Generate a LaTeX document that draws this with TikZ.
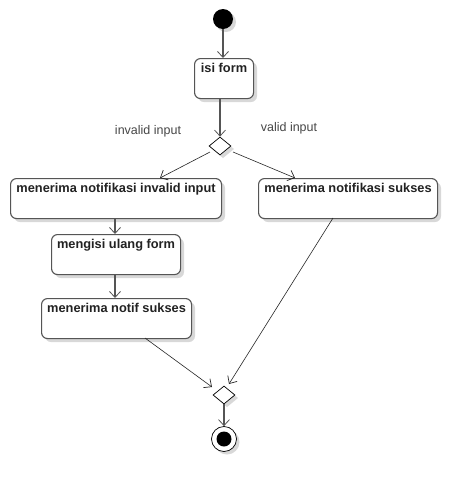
\documentclass[tikz,border=0pt]{standalone}
\usepackage{fontspec}
\setmainfont{Liberation Sans}
\usetikzlibrary{arrows.meta,shapes.geometric,calc}
\definecolor{txt}{HTML}{222222}
\definecolor{edge}{HTML}{555555}
\definecolor{shadowc}{HTML}{D8D8D8}
\tikzset{
  x=1pt,y=-1pt,
  actbox/.style={draw=edge,line width=1.1pt,rounded corners=6pt,fill=white,anchor=north west,inner sep=0pt},
  lbl/.style={font=\fontsize{12.8}{15}\selectfont\bfseries,text=txt,anchor=north,inner sep=0pt},
  guard/.style={font=\fontsize{12.5}{14}\selectfont,text=black!72,inner sep=0pt},
  dec/.style={diamond,draw=black,line width=0.7pt,fill=white,minimum width=22pt,minimum height=18pt,inner sep=0pt,aspect=1.2},
  flow/.style={draw=edge,line width=1.1pt,-{Straight Barb[length=6pt,width=11pt,line width=0.8pt]}},
  thin/.style={draw=black!85,line width=0.6pt,-{Straight Barb[length=6pt,width=11pt,line width=0.7pt]}},
  shbox/.style={fill=shadowc,rounded corners=6pt},
}
\begin{document}
\begin{tikzpicture}
\useasboundingbox (0,0) rectangle (476,491);
\fill[white] (0,0) rectangle (476,491);
% shadows (drawn first, beneath the shapes)
\fill[shbox] (198,62) rectangle (257,102);
\fill[shbox] (14,182) rectangle (225,222);
\fill[shbox] (262,182) rectangle (441,222);
\fill[shbox] (55,238) rectangle (184,278);
\fill[shbox] (45,302) rectangle (195,342);
\fill[shadowc] (226,22) circle (10);
\fill[shadowc] (227,442) circle (12.5);
\fill[shadowc] (223,140) -- (234,149) -- (223,158) -- (212,149) -- cycle;
\fill[shadowc] (227,389) -- (238,398) -- (227,407) -- (216,398) -- cycle;
% start
\node[circle,fill=black,minimum size=20pt,inner sep=0pt] (start) at (223,19) {};
% isi form
\node[actbox,minimum width=59pt,minimum height=40pt] (b0) at (194,58) {};
\node[lbl] (t0) at ($(b0.north)+(0,5)$) {isi form};
% decision 1
\node[dec] (d1) at (220,146) {};
\node[guard] (g1) at (148,131) {invalid input};
\node[guard] (g2) at (289,128) {valid input};
% boxes
\node[actbox,minimum width=211pt,minimum height=40pt] (b1) at (10,178) {};
\node[lbl] (t1) at ($(b1.north)+(0,5)$) {menerima notifikasi invalid input};
\node[actbox,minimum width=179pt,minimum height=40pt] (b2) at (258,178) {};
\node[lbl] (t2) at ($(b2.north)+(0,5)$) {menerima notifikasi sukses};
\node[actbox,minimum width=129pt,minimum height=40pt] (b3) at (51,234) {};
\node[lbl] (t3) at ($(b3.north)+(0,5)$) {mengisi ulang form};
\node[actbox,minimum width=150pt,minimum height=40pt] (b4) at (41,298) {};
\node[lbl] (t4) at ($(b4.north)+(0,5)$) {menerima notif sukses};
% decision 2 / merge
\node[dec] (d2) at (224,395) {};
% end
\node[circle,draw=black,line width=0.7pt,fill=white,minimum size=25pt,inner sep=0pt] (end) at (224,439) {};
\node[circle,fill=black,minimum size=15pt,inner sep=0pt] (endin) at (end.center) {};
% connectors
\draw[flow] (start) -- (b0.north -| start);
\draw[flow] (b0.south -| d1.north) -- (d1.north);
\coordinate (a1s) at (210,152);
\coordinate (a1e) at (160,178);
\draw[thin] (a1s) -- (a1e);
\coordinate (a2s) at (233,152);
\coordinate (a2e) at (295,178);
\draw[thin] (a2s) -- (a2e);
\draw[flow] (b1.south -| 115,0) -- (b3.north -| 115,0);
\draw[flow] (b3.south -| 115,0) -- (b4.north -| 115,0);
\coordinate (a3s) at (145,338);
\coordinate (a3e) at (212,387);
\draw[thin] (a3s) -- (a3e);
\coordinate (a4s) at (333,218);
\coordinate (a4e) at (229,384);
\draw[thin] (a4s) -- (a4e);
\draw[flow] (d2.south) -- (end.north);
\end{tikzpicture}
\end{document}
